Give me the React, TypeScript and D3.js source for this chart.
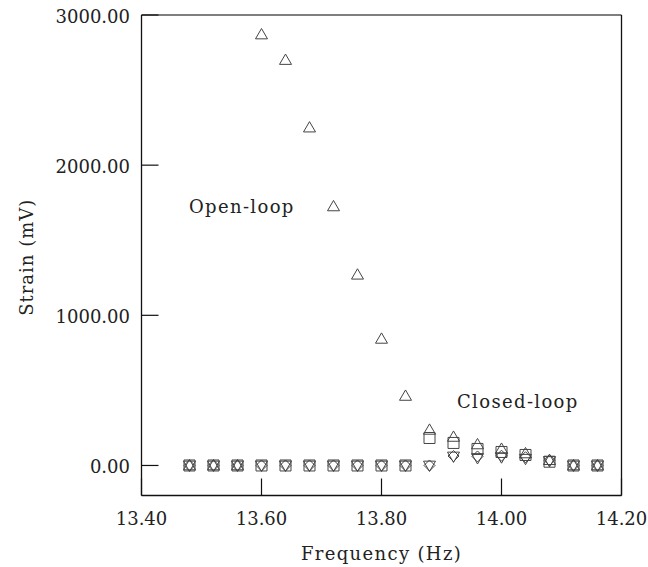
import React from "react";
import * as d3 from "d3";

// Excitation frequencies (Hz)
const frequencies = [
  13.48, 13.52, 13.56, 13.6, 13.64, 13.68, 13.72, 13.76, 13.8, 13.84, 13.88,
  13.92, 13.96, 14.0, 14.04, 14.08, 14.12, 14.16,
];

// Strain response (mV) for each run
const openLoop = [0, 0, 0, 2870, 2700, 2250, 1725, 1270, 843, 463, 237, 190, 140, 110, 80, 35, 0, 0];
const closedLoopA = [0, 0, 0, 0, 0, 0, 0, 0, 0, 0, 183, 150, 110, 90, 70, 25, 0, 0];
const closedLoopB = [0, 0, 0, 0, 0, 0, 0, 0, 0, 0, 0, 63, 60, 65, 55, 35, 0, 0];
const closedLoopC = [0, 0, 0, 0, 0, 0, 0, 0, 0, 0, 0, 60, 50, 55, 45, 30, 0, 0];

const xTicks = [13.4, 13.6, 13.8, 14.0, 14.2];
const yTicks = [0, 1000, 2000, 3000];

const W = 648;
const H = 567;
const L = 141.5;
const R = 621.5;
const T = 15;
const B = 495.5;

const FONT = "'DejaVu Serif', 'Liberation Serif', serif";
const FS = 18;
const TRACK = 1.35;

const x = d3.scaleLinear().domain([13.4, 14.2]).range([L, R]);
const y = d3.scaleLinear().domain([-200, 3000]).range([B, T]);

const triUp = (cx: number, cy: number, s = 12) =>
  `M${cx},${cy - s * 0.5}L${cx + s / 2},${cy + s * 0.36}L${cx - s / 2},${cy + s * 0.36}Z`;
const triDown = (cx: number, cy: number, s = 12) =>
  `M${cx},${cy + s * 0.5}L${cx + s / 2},${cy - s * 0.36}L${cx - s / 2},${cy - s * 0.36}Z`;
const square = (cx: number, cy: number, s = 11) =>
  `M${cx - s / 2},${cy - s / 2}h${s}v${s}h${-s}Z`;
const diamond = (cx: number, cy: number, s = 11) =>
  `M${cx},${cy - s / 2}L${cx + s / 2},${cy}L${cx},${cy + s / 2}L${cx - s / 2},${cy}Z`;

const series = [
  { values: closedLoopA, shape: square },
  { values: closedLoopB, shape: diamond },
  { values: closedLoopC, shape: triDown },
  { values: openLoop, shape: triUp },
];

export default function App() {
  return (
    <svg width={W} height={H} style={{ position: "absolute", left: 0, top: 0, background: "#fff" }}>
      {/* frame */}
      <line x1={L} y1={T} x2={R} y2={T} stroke="#555" strokeWidth={1.6} />
      <line x1={R} y1={T} x2={R} y2={B} stroke="#111" strokeWidth={1.3} />
      <line x1={L} y1={T} x2={L} y2={B} stroke="#111" strokeWidth={1.3} />
      <line x1={L} y1={B} x2={R} y2={B} stroke="#111" strokeWidth={1.3} />

      {/* y ticks */}
      {yTicks.map((t) => (
        <g key={"y" + t}>
          <line x1={L} x2={L + 17} y1={y(t)} y2={y(t)} stroke="#111" strokeWidth={1.2} />
          <text x={130} y={y(t) + 7.5} textAnchor="end" fontFamily={FONT} fontSize={FS} fill="#222">
            {d3.format(".2f")(t)}
          </text>
        </g>
      ))}

      {/* x ticks */}
      {xTicks.map((t) => (
        <g key={"x" + t}>
          <line x1={x(t)} x2={x(t)} y1={B} y2={B - 17} stroke="#111" strokeWidth={1.2} />
          <text x={x(t)} y={525} textAnchor="middle" fontFamily={FONT} fontSize={FS} fill="#222">
            {d3.format(".2f")(t)}
          </text>
        </g>
      ))}

      <text
        x={(L + R) / 2}
        y={560}
        textAnchor="middle"
        fontFamily={FONT}
        fontSize={FS}
        letterSpacing={TRACK}
        fill="#222"
      >
        Frequency (Hz)
      </text>
      <text
        transform={`translate(33,${(T + B) / 2 + 2}) rotate(-90)`}
        textAnchor="middle"
        fontFamily={FONT}
        fontSize={FS}
        letterSpacing={1}
        fill="#222"
      >
        Strain (mV)
      </text>

      <text x={189} y={213} fontFamily={FONT} fontSize={FS} letterSpacing={TRACK} fill="#222">
        Open-loop
      </text>
      <text x={457} y={408} fontFamily={FONT} fontSize={FS} letterSpacing={TRACK} fill="#222">
        Closed-loop
      </text>

      {/* markers */}
      {series.map((s, i) => (
        <g key={i} fill="none" stroke="#444" strokeWidth={1}>
          {frequencies.map((f, j) => (
            <path key={j} d={s.shape(x(f), y(s.values[j]))} />
          ))}
        </g>
      ))}
    </svg>
  );
}
